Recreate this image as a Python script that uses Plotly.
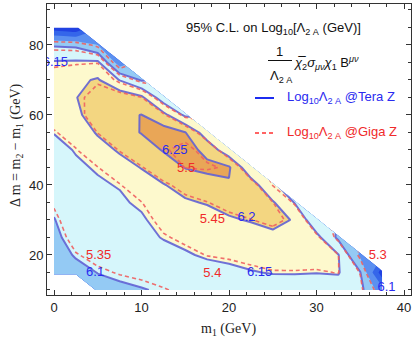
import plotly.graph_objects as go

# Grid: m1 (GeV) along x, delta m = m2 - m1 (GeV) along y
m1 = [0, 2.5, 5, 7.5, 10, 12.5, 15, 17.5, 20, 22.5, 25, 27.5, 30, 32.5, 35, 37.5]
dm = [10, 15, 20, 25, 30, 35, 40, 45, 50, 55, 60, 65, 70, 75, 80, 85]

N = None
# 95% C.L. reach on log10(Lambda_2A / GeV), Tera Z (rows follow dm, columns follow m1)
log_lambda_tera = [
    [N, N, 6.085, 6.092, 6.098, 6.104, 6.110, 6.116, 6.120, 6.125, 6.130, 6.132, 6.130, 6.130, 6.115, 6.020],
    [6.070, 6.085, 6.101, 6.108, 6.112, 6.118, 6.128, 6.135, 6.142, 6.148, 6.152, 6.152, 6.151, 6.153, 6.102, 5.920],
    [6.080, 6.104, 6.115, 6.120, 6.124, 6.130, 6.146, 6.155, 6.158, 6.162, 6.168, 6.170, 6.168, 6.152, 6.040, N],
    [6.090, 6.118, 6.125, 6.130, 6.134, 6.153, 6.160, 6.168, 6.172, 6.180, 6.190, 6.190, 6.165, 6.090, N, N],
    [6.098, 6.128, 6.133, 6.138, 6.145, 6.165, 6.178, 6.182, 6.195, 6.203, 6.212, 6.197, 6.110, N, N, N],
    [6.110, 6.135, 6.140, 6.145, 6.156, 6.180, 6.195, 6.203, 6.215, 6.222, 6.205, 6.148, N, N, N, N],
    [6.120, 6.140, 6.146, 6.152, 6.178, 6.198, 6.215, 6.228, 6.246, 6.226, 6.152, N, N, N, N, N],
    [6.130, 6.145, 6.153, 6.180, 6.202, 6.225, 6.252, 6.262, 6.256, 6.160, N, N, N, N, N, N],
    [6.140, 6.152, 6.180, 6.206, 6.228, 6.253, 6.270, 6.236, 6.165, N, N, N, N, N, N, N],
    [6.151, 6.170, 6.205, 6.232, 6.252, 6.272, 6.252, 6.170, N, N, N, N, N, N, N, N],
    [6.170, 6.190, 6.225, 6.240, 6.251, 6.215, 6.140, N, N, N, N, N, N, N, N, N],
    [6.185, 6.198, 6.230, 6.235, 6.210, 6.120, N, N, N, N, N, N, N, N, N, N],
    [6.180, 6.190, 6.205, 6.148, 6.095, N, N, N, N, N, N, N, N, N, N, N],
    [6.155, 6.158, 6.160, 6.020, N, N, N, N, N, N, N, N, N, N, N, N],
    [6.095, 6.090, 6.050, N, N, N, N, N, N, N, N, N, N, N, N, N],
    [5.920, 5.900, N, N, N, N, N, N, N, N, N, N, N, N, N, N],
]

# Same quantity at Giga Z
log_lambda_giga = [
    [N, N, 5.329, 5.336, 5.342, 5.348, 5.356, 5.362, 5.366, 5.371, 5.376, 5.378, 5.376, 5.376, 5.361, 5.266],
    [5.314, 5.329, 5.345, 5.352, 5.356, 5.362, 5.374, 5.381, 5.388, 5.394, 5.398, 5.398, 5.397, 5.401, 5.348, 5.166],
    [5.324, 5.348, 5.359, 5.364, 5.368, 5.374, 5.392, 5.401, 5.404, 5.408, 5.414, 5.416, 5.414, 5.401, 5.286, N],
    [5.334, 5.362, 5.369, 5.374, 5.378, 5.397, 5.406, 5.414, 5.418, 5.426, 5.436, 5.436, 5.411, 5.336, N, N],
    [5.342, 5.372, 5.377, 5.382, 5.389, 5.409, 5.424, 5.428, 5.441, 5.449, 5.458, 5.443, 5.356, N, N, N],
    [5.354, 5.379, 5.384, 5.389, 5.399, 5.424, 5.441, 5.449, 5.461, 5.468, 5.451, 5.394, N, N, N, N],
    [5.366, 5.386, 5.392, 5.398, 5.424, 5.444, 5.461, 5.474, 5.492, 5.472, 5.398, N, N, N, N, N],
    [5.376, 5.391, 5.399, 5.426, 5.448, 5.471, 5.501, 5.504, 5.496, 5.406, N, N, N, N, N, N],
    [5.386, 5.398, 5.426, 5.452, 5.474, 5.497, 5.508, 5.490, 5.411, N, N, N, N, N, N, N],
    [5.397, 5.416, 5.451, 5.478, 5.485, 5.498, 5.490, 5.416, N, N, N, N, N, N, N, N],
    [5.416, 5.436, 5.471, 5.486, 5.497, 5.458, 5.386, N, N, N, N, N, N, N, N, N],
    [5.423, 5.436, 5.472, 5.477, 5.452, 5.362, N, N, N, N, N, N, N, N, N, N],
    [5.418, 5.428, 5.443, 5.386, 5.333, N, N, N, N, N, N, N, N, N, N, N],
    [5.393, 5.396, 5.398, 5.258, N, N, N, N, N, N, N, N, N, N, N, N],
    [5.333, 5.328, 5.288, N, N, N, N, N, N, N, N, N, N, N, N, N],
    [5.158, 5.138, N, N, N, N, N, N, N, N, N, N, N, N, N, N],
]

# Contour levels
tera_fill_levels = dict(start=5.95, end=6.25, size=0.05)
tera_line_levels = dict(start=6.10, end=6.25, size=0.05)
giga_line_levels = dict(start=5.30, end=5.50, size=0.05)

# Band colours, lowest band first
band_colors = ["#2142e2", "#3566ea", "#5c90f0", "#94caf4",
               "#d6f6fb", "#fdf9cd", "#f3d681", "#e9a657"]

# Contour labels: (m1, dm, text)
tera_labels = [(0.15, 74.9, "6.15"), (13.8, 49.7, "6.25"), (22.0, 30.6, "6.2"),
               (23.5, 14.9, "6.15"), (4.7, 14.9, "6.1"), (38.0, 10.6, "6.1")]
giga_labels = [(15.1, 44.6, "5.5"), (18.1, 30.0, "5.45"), (18.1, 14.6, "5.4"),
               (5.1, 19.7, "5.35"), (37.0, 19.7, "5.3")]

SANS = "Liberation Sans, Arial, sans-serif"
SERIF = "Liberation Serif, Times New Roman, serif"
BLUE_TXT = "#2a2af0"
RED_TXT = "#f02a2a"

nb = len(band_colors) - 1
colorscale = [[i / nb, c] for i, c in enumerate(band_colors)]

fig = go.Figure()

fig.add_trace(go.Contour(
    x=m1, y=dm, z=log_lambda_tera,
    contours=dict(coloring="fill", showlines=False, **tera_fill_levels),
    colorscale=colorscale, showscale=False, connectgaps=False,
    line=dict(width=0, smoothing=0), hoverinfo="skip",
))
fig.add_trace(go.Contour(
    x=m1, y=dm, z=log_lambda_tera,
    contours=dict(coloring="none", **tera_line_levels),
    showscale=False, connectgaps=False,
    line=dict(color="rgba(98,98,212,0.9)", width=2, smoothing=0), hoverinfo="skip",
))
fig.add_trace(go.Contour(
    x=m1, y=dm, z=log_lambda_giga,
    contours=dict(coloring="none", **giga_line_levels),
    showscale=False, connectgaps=False,
    line=dict(color="rgba(240,96,96,0.9)", width=1.6, dash="4px,3px", smoothing=0),
    hoverinfo="skip",
))

for labels, col in ((tera_labels, BLUE_TXT), (giga_labels, RED_TXT)):
    fig.add_trace(go.Scatter(
        x=[p[0] for p in labels], y=[p[1] for p in labels],
        text=[p[2] for p in labels], mode="text", textposition="middle center",
        textfont=dict(family=SANS, size=13, color=col),
        cliponaxis=True, hoverinfo="skip", showlegend=False,
    ))

# Plot-area geometry in figure pixels
L, R, T, B = 47, 411, 4, 295
W, H = 413, 338


def px(x):
    return (x - L) / (R - L)


def py(y):
    return (B - y) / (B - T)


axis_common = dict(
    ticks="inside", ticklen=5, tickwidth=1, tickcolor="#333",
    showline=True, linecolor="#333", linewidth=1, mirror="ticks",
    showgrid=False, zeroline=False,
    tickfont=dict(family=SANS, size=13, color="#222"),
)
fig.update_xaxes(range=[-0.8, 40.8], tick0=0, dtick=10,
                 minor=dict(ticks="inside", ticklen=3, tick0=0, dtick=2, tickcolor="#333"),
                 **axis_common)
fig.update_yaxes(range=[8.57, 91.71], tick0=0, dtick=20,
                 minor=dict(ticks="inside", ticklen=3, tick0=0, dtick=5, tickcolor="#333"),
                 **axis_common)

ann = []
ann.append(dict(text="m<sub>1</sub> (GeV)", x=px(228.5), y=py(329), xref="paper", yref="paper",
                showarrow=False, xanchor="center", yanchor="middle",
                font=dict(family=SERIF, size=14, color="#222")))
ann.append(dict(text="Δ m = m<sub>2</sub> − m<sub>1</sub> (GeV)", x=px(16), y=py(145),
                xref="paper", yref="paper", textangle=-90,
                showarrow=False, xanchor="center", yanchor="middle",
                font=dict(family=SERIF, size=14, color="#222")))
ann.append(dict(text="95% C.L. on Log<sub>10</sub>[Λ<sub>2 A</sub> (GeV)]", x=px(273.5), y=py(28.3),
                xref="paper", yref="paper", showarrow=False, xanchor="center", yanchor="middle",
                font=dict(family=SANS, size=13, color="#111")))
ann.append(dict(text="1", x=px(279.5), y=py(51.5), xref="paper", yref="paper", showarrow=False,
                xanchor="center", yanchor="middle", font=dict(family=SANS, size=13, color="#111")))
ann.append(dict(text="Λ<sub>2 A</sub>", x=px(281), y=py(76), xref="paper", yref="paper",
                showarrow=False, xanchor="center", yanchor="middle",
                font=dict(family=SANS, size=13, color="#111")))
ann.append(dict(text="<i>χ̅</i><sub>2</sub><i>σ</i><sub><i>μν</i></sub><i>χ</i><sub>1</sub> B<sup><i>μν</i></sup>",
                x=px(292), y=py(63), xref="paper", yref="paper", showarrow=False,
                xanchor="left", yanchor="middle", font=dict(family=SANS, size=13, color="#111")))
ann.append(dict(text="Log<sub>10</sub>Λ<sub>2 A</sub> @Tera Z", x=px(285), y=py(97.7),
                xref="paper", yref="paper", showarrow=False, xanchor="left", yanchor="middle",
                font=dict(family=SANS, size=13, color=BLUE_TXT)))
ann.append(dict(text="Log<sub>10</sub>Λ<sub>2 A</sub> @Giga Z", x=px(285), y=py(132),
                xref="paper", yref="paper", showarrow=False, xanchor="left", yanchor="middle",
                font=dict(family=SANS, size=13, color=RED_TXT)))

shapes = [
    dict(type="line", xref="paper", yref="paper", x0=px(268), x1=px(292), y0=py(60.5), y1=py(60.5),
         line=dict(color="#111", width=1)),
    dict(type="line", xref="paper", yref="paper", x0=px(255), x1=px(274), y0=py(98), y1=py(98),
         line=dict(color="#1c2cf0", width=2)),
    dict(type="line", xref="paper", yref="paper", x0=px(255), x1=px(274), y0=py(133), y1=py(133),
         line=dict(color="#ff3030", width=1.6, dash="4px,3px")),
]

fig.update_layout(
    width=W, height=H, margin=dict(l=L, r=W - R, t=T, b=H - B),
    paper_bgcolor="white", plot_bgcolor="white", showlegend=False,
    font=dict(family=SANS, size=13, color="#222"),
    annotations=ann, shapes=shapes,
)

fig.write_html("out.html")
